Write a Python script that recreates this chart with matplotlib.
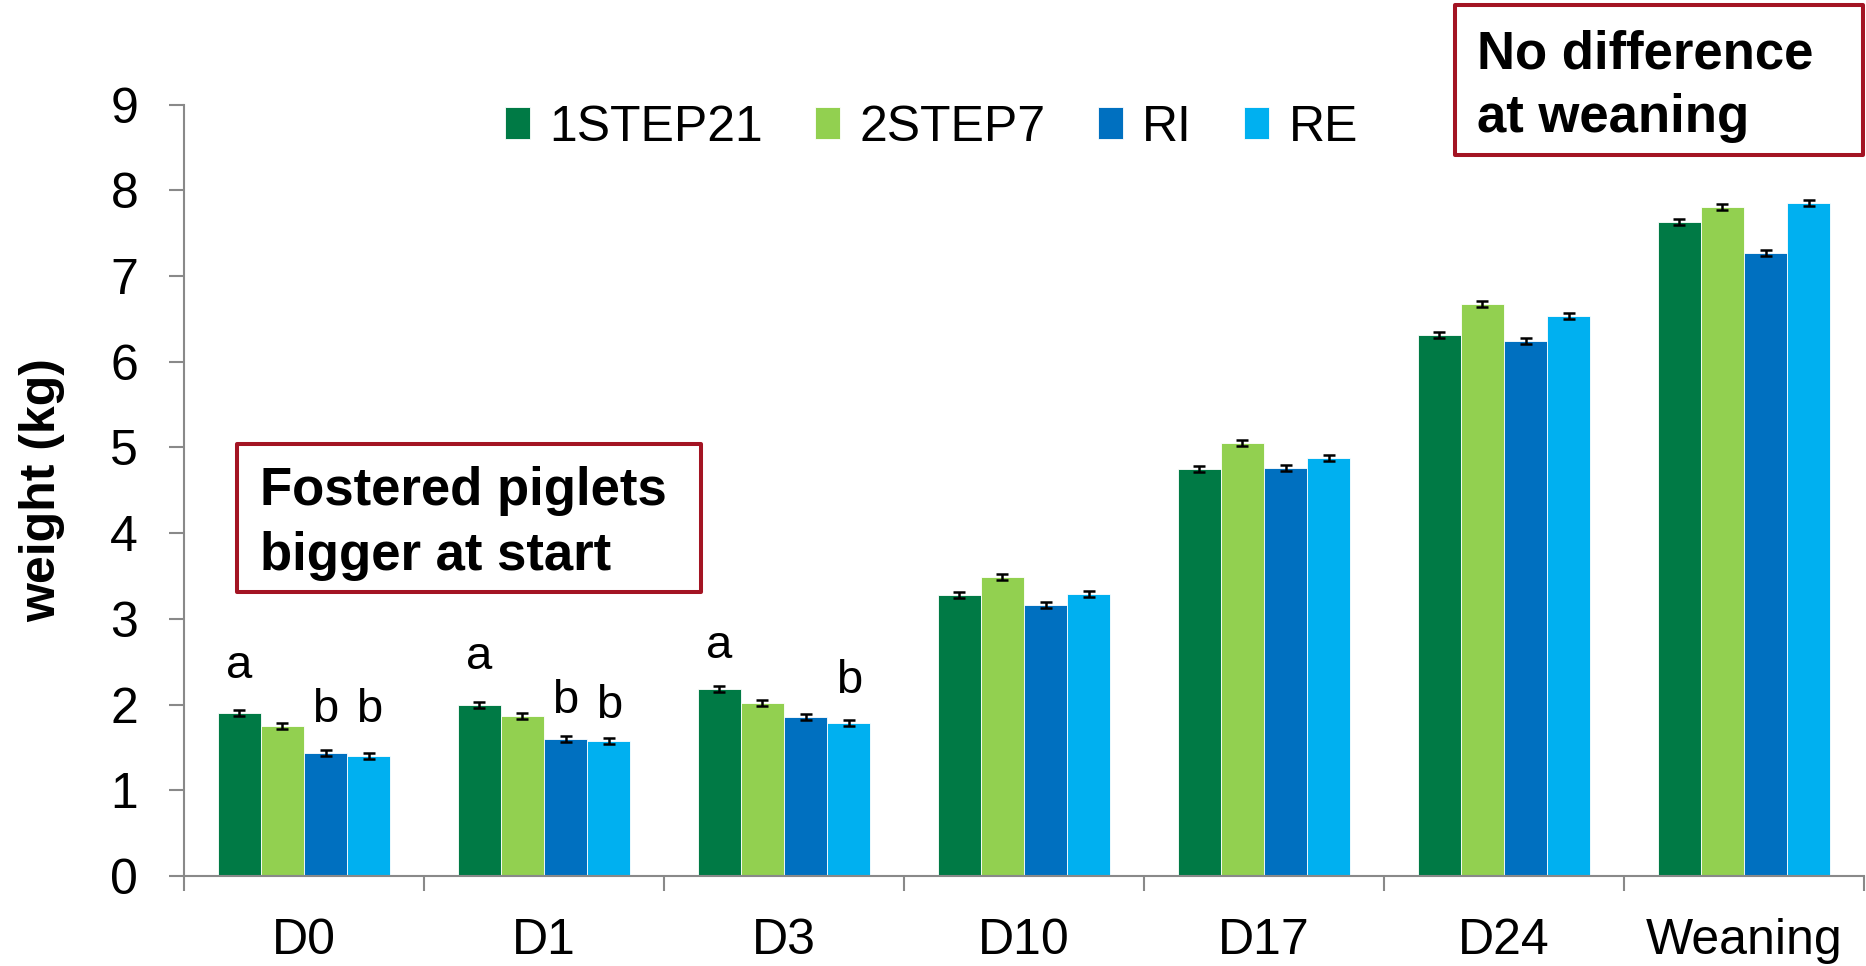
import numpy as np
import matplotlib
matplotlib.use("Agg")
import matplotlib.pyplot as plt
from matplotlib.patches import Rectangle

plt.rcParams['font.family'] = ['Liberation Sans', 'DejaVu Sans']

# piglet weights per time point and fostering strategy
days = ["D0", "D1", "D3", "D10", "D17", "D24", "Weaning"]
groups = ["1STEP21", "2STEP7", "RI", "RE"]
colors = ["#007A45", "#92D050", "#0070C0", "#00B0F0"]

w_1step21 = [1.90, 2.00, 2.18, 3.28, 4.75, 6.31, 7.63]
w_2step7 = [1.75, 1.87, 2.02, 3.49, 5.05, 6.67, 7.81]
w_ri = [1.44, 1.60, 1.86, 3.16, 4.76, 6.24, 7.27]
w_re = [1.40, 1.58, 1.78, 3.29, 4.88, 6.54, 7.85]

se_1step21 = [0.035, 0.035, 0.035, 0.035, 0.035, 0.035, 0.035]
se_2step7 = [0.035, 0.035, 0.035, 0.035, 0.035, 0.035, 0.035]
se_ri = [0.035, 0.035, 0.035, 0.035, 0.035, 0.035, 0.035]
se_re = [0.035, 0.035, 0.035, 0.035, 0.035, 0.035, 0.035]

# significance letters: (day index, group index, letter, height)
sig_letters = [
    (0, 0, "a", 2.31), (0, 2, "b", 1.80), (0, 3, "b", 1.80),
    (1, 0, "a", 2.42), (1, 2, "b", 1.90), (1, 3, "b", 1.84),
    (2, 0, "a", 2.54), (2, 3, "b", 2.13),
]

weights = [w_1step21, w_2step7, w_ri, w_re]
errors = [se_1step21, se_2step7, se_ri, se_re]

fig = plt.figure(figsize=(18.66, 9.66), dpi=100)
ax = fig.add_axes([0.0986, 0.0932, 0.9003, 0.7984])

x = np.arange(len(days))
bw = 0.18
offsets = [-1.5 * bw, -0.5 * bw, 0.5 * bw, 1.5 * bw]

for i in range(4):
    ax.bar(x + offsets[i], weights[i], bw, color=colors[i], label=groups[i],
           edgecolor="white", linewidth=0.6, zorder=2)
    ax.errorbar(x + offsets[i], weights[i], yerr=errors[i], fmt="none",
                ecolor="black", elinewidth=1.8, capsize=4.5, capthick=1.8, zorder=3)

for d, g, txt, yy in sig_letters:
    ax.text(x[d] + offsets[g], yy, txt, ha="center", va="baseline", fontsize=34)

ax.set_xlim(-0.5, len(days) - 0.5)
ax.set_ylim(0, 9)
ax.set_yticks(range(10))
ax.set_yticklabels([str(v) for v in range(10)], fontsize=36)

# category labels centred, ticks on the boundaries
ax.set_xticks(np.arange(len(days) + 1) - 0.5)
ax.set_xticklabels([])
ax.set_xticks(x, minor=True)
ax.set_xticklabels(days, minor=True, fontsize=36)
ax.tick_params(axis="x", which="minor", length=0, pad=30)
ax.tick_params(axis="x", which="major", length=11, width=1.5, color="#898989")
ax.tick_params(axis="y", length=11, width=1.5, color="#898989", pad=22)

for s in ["top", "right"]:
    ax.spines[s].set_visible(False)
for s in ["left", "bottom"]:
    ax.spines[s].set_color("#898989")
    ax.spines[s].set_linewidth(1.5)

ax.set_ylabel("weight (kg)", fontsize=36, fontweight="bold")
ax.yaxis.set_label_coords(-0.071, 0.5)

fig.legend(loc="center", bbox_to_anchor=(0.4992, 0.8675), ncol=4, frameon=False,
           fontsize=36, handlelength=0.5, handleheight=0.6, handletextpad=0.38,
           columnspacing=1.05)

# callout boxes
box_col = "#A31423"
fig.patches.append(Rectangle((0.1270, 0.3872), 0.2487, 0.1532, transform=fig.transFigure,
                             fill=False, edgecolor=box_col, linewidth=2.9, joinstyle="round"))
fig.text(0.1393, 0.4772, "Fostered piglets", fontsize=38, fontweight="bold", va="baseline")
fig.text(0.1393, 0.4099, "bigger at start", fontsize=38, fontweight="bold", va="baseline")

fig.patches.append(Rectangle((0.7797, 0.8395), 0.2186, 0.1553, transform=fig.transFigure,
                             fill=False, edgecolor=box_col, linewidth=2.9, joinstyle="round"))
fig.text(0.7915, 0.9296, "No difference", fontsize=38, fontweight="bold", va="baseline")
fig.text(0.7915, 0.8634, "at weaning", fontsize=38, fontweight="bold", va="baseline")

fig.savefig("out.png", dpi=100)
